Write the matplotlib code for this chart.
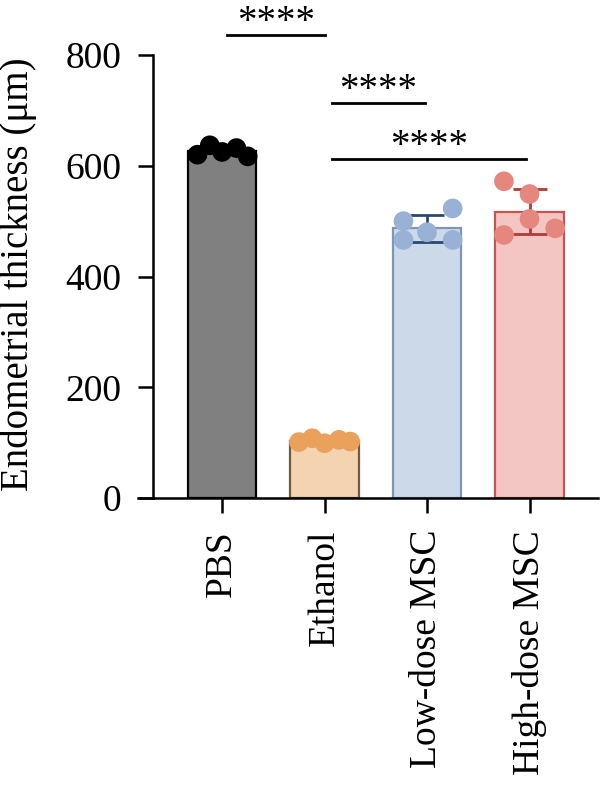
import matplotlib.pyplot as plt
import numpy as np

plt.rcParams['font.family'] = ['Liberation Serif', 'DejaVu Serif']

# groups and individual measurements (um)
groups = ['PBS', 'Ethanol', 'Low-dose MSC', 'High-dose MSC']
pbs = [620, 637, 625, 632, 617]
ethanol = [101, 108, 99, 105, 102]
low_msc = [500, 466, 480, 523, 466]
high_msc = [475, 504, 549, 572, 487]
values = [pbs, ethanol, low_msc, high_msc]
# horizontal jitter of the dots, in bar units
jitter = [[-0.24, -0.12, 0.0, 0.14, 0.25],
          [-0.25, -0.12, 0.0, 0.14, 0.25],
          [-0.23, -0.23, 0.0, 0.25, 0.25],
          [-0.25, 0.0, 0.0, -0.25, 0.25]]
show_err = [False, False, True, True]

fill_cols = ['#808080', '#f3d3b0', '#cbd9e9', '#f4c6c3']
edge_cols = ['#000000', '#6e5c40', '#7f95b6', '#c8544f']
dot_cols = ['#000000', '#e9a15b', '#98b1d4', '#e5877f']
err_cols = ['#000000', '#000000', '#2b4873', '#b23934']

# significance brackets: (x start, x end, y)
sig = [(0.05, 1.0, 837), (1.07, 1.98, 714), (1.07, 2.97, 613)]

fig = plt.figure(figsize=(6, 7.85), dpi=100)
ax = fig.add_axes([0.255, 0.3656, 0.742, 0.5643])

x = np.arange(len(groups))
means = [np.mean(v) for v in values]
sds = [np.std(v, ddof=1) for v in values]

ax.bar(x, means, width=0.67, color=fill_cols, edgecolor=edge_cols,
       linewidth=1.6, zorder=2)
for i in range(len(groups)):
    if show_err[i]:
        ax.errorbar(x[i], means[i], yerr=sds[i], color=err_cols[i],
                    capsize=12, elinewidth=2, capthick=2, zorder=3)
    ax.scatter(x[i] + np.array(jitter[i]), values[i], s=200,
               color=dot_cols[i], edgecolors='none', zorder=4, clip_on=False)

for x0, x1, y in sig:
    ax.plot([x0, x1], [y, y], color='black', lw=2, clip_on=False)
    ax.text((x0 + x1) / 2, y + 5, '****', ha='center', va='baseline',
            fontsize=28)

ax.set_xlim(-0.674, 3.67)
ax.set_ylim(0, 800)
ax.set_yticks([0, 200, 400, 600, 800])
ax.set_xticks(x)
ax.set_xticklabels(groups, rotation=90)
ax.plot([-0.82, -0.674], [0, 0], color='black', lw=1.8, clip_on=False)

for s in ['top', 'right']:
    ax.spines[s].set_visible(False)
for s in ['left', 'bottom']:
    ax.spines[s].set_linewidth(1.8)
ax.tick_params(axis='both', length=11, width=1.8, labelsize=27, pad=12)
ax.set_ylabel('Endometrial thickness (μm)', fontsize=28)
ax.yaxis.set_label_coords(-0.26, 0.505)

fig.savefig('out.png', dpi=100)
